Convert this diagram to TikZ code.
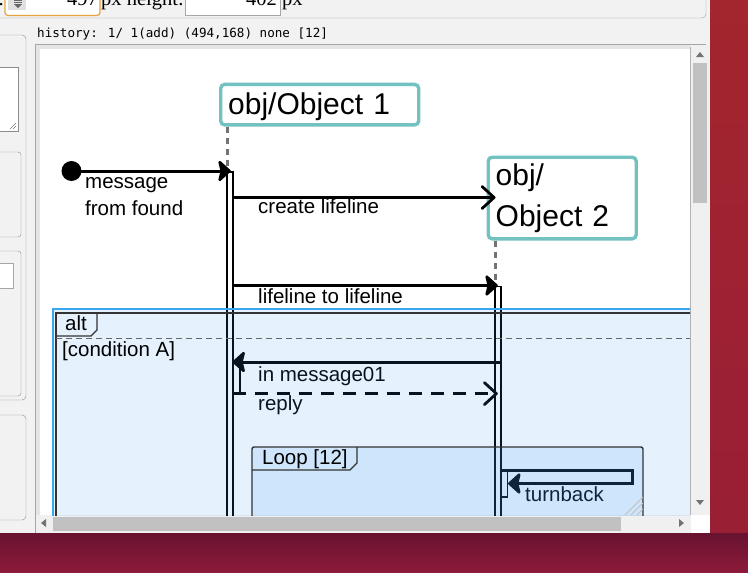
\documentclass[tikz,border=0pt]{standalone}
\usepackage{fontspec}
\setmainfont{Liberation Sans}
\newfontfamily\uiserif{Liberation Serif}
\newfontfamily\uimono{DejaVu Sans Mono}
\usetikzlibrary{arrows.meta,positioning,calc}

\definecolor{objteal}{HTML}{74C1C1}
\definecolor{winbg}{HTML}{F2F2F2}
\definecolor{desk}{HTML}{A3252E}
\definecolor{desklow}{HTML}{981E35}
\definecolor{deskdark}{HTML}{681330}
\definecolor{deskmid}{HTML}{8D1A3A}
\definecolor{selblue}{HTML}{3AA6F0}
\definecolor{tintblue}{HTML}{3D9AF0}
\definecolor{uiorange}{HTML}{E8A33C}
\definecolor{thumbgray}{HTML}{C1C1C1}
\definecolor{framegray}{HTML}{333333}

\newcommand{\lblfont}{\fontsize{20.5}{27}\selectfont}
\newcommand{\objfont}{\fontsize{30}{41}\selectfont}
\newcommand{\uifont}{\uiserif\fontsize{20.5}{24}\selectfont}

\begin{document}
\begin{tikzpicture}[x=1pt,y=-1pt,
    objbox/.style={draw=objteal,line width=3.4pt,rounded corners=4pt,inner xsep=7.5pt,inner ysep=0pt,align=left,font=\objfont},
    lbl/.style={anchor=base west,inner sep=0pt,align=left,font=\lblfont},
    uitxt/.style={inner sep=0pt,font=\uifont},
    actbar/.style={draw,line width=1.6pt,anchor=north west,minimum width=6pt,inner sep=0pt},
    msgline/.style={line width=3pt,line join=miter,-{Stealth[length=14pt,width=25pt,inset=3pt,round]}},
    msgopen/.style={line width=2.8pt,-{Straight Barb[length=12pt,width=22pt,round]}},
    lifeline/.style={draw=black!55,line width=2.5pt,dash pattern=on 6pt off 5pt},
    tabline/.style={draw=framegray,line width=1.4pt},
  ]
    \useasboundingbox (0,0) rectangle (748,573);

    % desktop behind the window
    \shade[top color=desk, bottom color=desklow] (0,0) rectangle (748,573);
    \shade[top color=deskdark, bottom color=deskmid] (0,533) rectangle (748,573);

    % window
    \fill[winbg] (0,0) rectangle (710,533);
    \draw[black!40, rounded corners=4pt] (0,18) -- (706,18) -- (706,-5);

    % size fields
    \node[uitxt, anchor=base east] (dot) at (4,5) {.};
    \draw[uiorange, line width=1.2pt, fill=white, rounded corners=3pt] (5,-6) rectangle (100,15.5);
    \fill[black!12] (8,-3) rectangle (26,10);
    \draw[black!60, line width=1pt] (14,0.5) -- (22,0.5) (14,2.5) -- (22,2.5);
    \fill[black!60] (14,4) -- (22,4) -- (18,8) -- cycle;
    \node[uitxt, anchor=base east] (wval) at (98,5) {497};
    \node[uitxt, anchor=base west] (hlbl) at (101,5) {px height:};
    \draw[black!35, fill=white] (185,-6) rectangle (280,15.5);
    \node[uitxt, anchor=base east] (hval) at (277,5) {402};
    \node[uitxt, anchor=base west] (hunit) at (282,5) {px};

    \node[anchor=base west, inner sep=0pt, font=\uimono\fontsize{12.6}{14}\selectfont] (hist) at (37,37.5) {history: 1/ 1(add) (494,168) none [12]};

    % left panel
    \draw[black!45, rounded corners=4pt] (-2,35) -- (26,35) -- (26,400) -- (-2,400);
    \draw[black!45, fill=white] (-2,67) rectangle (18,131);
    \draw[black!50] (10,129) -- (16,123) (13,129) -- (16,126);
    \draw[black!45, rounded corners=3pt] (-2,152) -- (21,152) -- (21,237) -- (-2,237);
    \draw[black!45, rounded corners=3pt] (-2,251) -- (21,251) -- (21,396) -- (-2,396);
    \draw[black!35, fill=white] (-2,263) rectangle (13,288);
    \draw[black!45, rounded corners=4pt] (-2,415) -- (26,415) -- (26,520) -- (-2,520);

    % canvas and scrollbars
    \draw[black!35] (35.5,533) -- (35.5,44.5) -- (706,44.5);
    \fill[black!10] (36,45) rectangle (690,515);
    \fill[white] (40,49) rectangle (690,515);
    \fill[black!6] (690.5,45) rectangle (710,515);
    \draw[black!30] (690.5,47) -- (690.5,515);
    \fill[thumbgray] (693,63) rectangle (707,203);
    \fill[black!55] (696,57) -- (704,57) -- (700,52) -- cycle;
    \fill[black!55] (696,500) -- (704,500) -- (700,505) -- cycle;
    \fill[black!6] (36,515) rectangle (691,533);
    \fill[thumbgray] (53,516.5) rectangle (621,531);
    \fill[black!55] (46,519) -- (46,527) -- (41,523) -- cycle;
    \fill[black!55] (679,519) -- (679,527) -- (684,523) -- cycle;
    \fill[white] (691,515) rectangle (710,533);

    \begin{scope}
      \clip (40,49) rectangle (690,515);

      % objects
      \node[objbox, anchor=north west, text width=183pt, minimum height=40.5pt, text height=21pt, text depth=1pt] (obj1) at (219,82.7) {obj/Object 1};
      \node[objbox, anchor=north west, text width=133pt, minimum height=81.6pt] (obj2) at (486.5,155.5) {obj/\\Object 2};

      % activations
      \node[actbar, minimum height=360pt] (bar1) at (226,171) {};
      \node[actbar, minimum height=250pt] (bar2) at (494,285.5) {};
      \node[actbar, minimum width=6.5pt, minimum height=30pt] (act1b) at (232.5,362) {};
      \node[actbar, minimum width=6.5pt, minimum height=26pt] (act2b) at (500,470) {};

      % lifelines
      \coordinate (ll1) at ([xshift=1.5pt]bar1.north west);
      \coordinate (ll2) at ([xshift=1.5pt]bar2.north west);
      \draw[lifeline] (obj1.south -| ll1) -- (ll1);
      \draw[lifeline] (obj2.south -| ll2) -- (ll2);

      % messages
      \node[circle, fill, inner sep=0pt, minimum size=20pt] (found) at (71.5,171) {};
      \draw[msgline] (found.center) -- ([xshift=1pt]found -| bar1.north);
      \draw[msgopen] ([yshift=0.5pt]bar1.east |- obj2.west) -- ([yshift=0.5pt]obj2.west -| ll2);
      \draw[msgline] (bar1.east |- bar2.north) -- (bar2.north);
      \draw[msgline] (bar2.east |- act1b.north) -- (act1b.north west);
      \draw[msgopen, dash pattern=on 13pt off 9pt] (act1b.south west) -- (act1b.south west -| bar2.north);
      \coordinate (tbR) at (632,470);
      \coordinate (tbB) at (632,483.5);
      \draw[msgline] (act2b.north west) -- (tbR) -- (tbB) -- (tbB -| act2b.east);

      \node[lbl] (lfound) at (85,215) {message\\from found};
      \node[lbl] (lcreate) at (258,213) {create lifeline};
      \node[lbl] (lll) at (258,303) {lifeline to lifeline};
      \node[lbl] (lin01) at (258,381) {in message01};
      \node[lbl] (lreply) at (258,410) {reply};
      \node[lbl] (lturn) at (525,501) {turnback};

      % alt fragment
      \fill[tintblue, fill opacity=0.13] (53,309) rectangle (700,520);
      \draw[framegray, line width=1.3pt] (700,313) -- (56,313) -- (56,520);
      \draw[selblue, line width=2pt] (700,309) -- (53,309) -- (53,520);
      \draw[tabline] (56,336) -- (91,336) -- (97,330) -- (97,313);
      \draw[black!60, line width=1.3pt, dash pattern=on 6pt off 4pt] (56,338.5) -- (690,338.5);
      \node[lbl] (lalt) at (65,330) {alt};
      \node[lbl] (lcond) at (62,356) {[condition A]};

      % loop fragment
      \fill[tintblue, fill opacity=0.13] (252,447) rectangle (643,520);
      \draw[framegray, line width=1.4pt, rounded corners=2pt] (252,520) -- (252,447) -- (643,447) -- (643,520);
      \draw[tabline] (252,470) -- (350,470) -- (357,463) -- (357,447);
      \node[lbl] (lloop) at (262,464) {Loop [12]};
      \foreach \g in {0,6,12}
        \draw[black!25, line width=1pt] (625+\g,515) -- (643,497+\g);
    \end{scope}
\end{tikzpicture}
\end{document}
